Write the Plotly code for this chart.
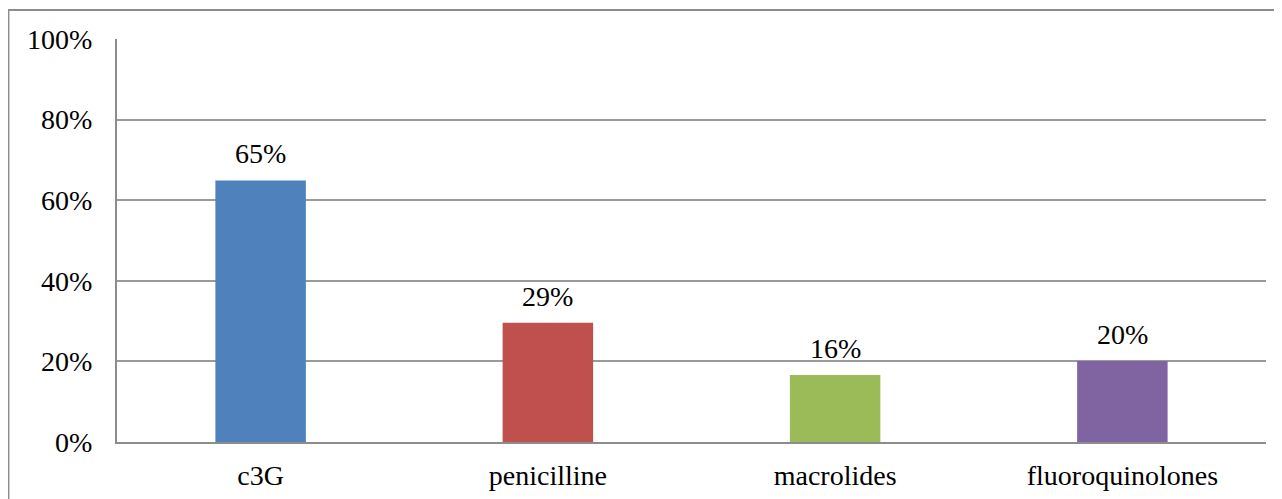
import plotly.graph_objects as go

categories = ["c3G", "penicilline", "macrolides", "fluoroquinolones"]
values = [0.649, 0.296, 0.166, 0.201]
value_labels = ["65%", "29%", "16%", "20%"]
colors = ["#4F81BD", "#C0504D", "#9BBB59", "#8064A2"]
y_ticks = [0, 0.2, 0.4, 0.6, 0.8, 1.0]
y_tick_labels = ["0%", "20%", "40%", "60%", "80%", "100%"]

FONT = "Liberation Serif"
FS = 28

fig = go.Figure(go.Bar(
    x=categories, y=values, marker=dict(color=colors, line=dict(width=0)),
    width=0.315, hoverinfo="x+y",
))

for c, v, t in zip(categories, values, value_labels):
    fig.add_annotation(x=c, y=v, text=t, showarrow=False, yanchor="bottom",
                       yshift=9, font=dict(family=FONT, size=FS, color="black"))

# page body has an 8px default margin; figure is sized to fit the window
fig.update_layout(
    width=1274, height=491,
    margin=dict(l=109, r=16, t=31, b=57),
    paper_bgcolor="white", plot_bgcolor="white",
    showlegend=False,
    font=dict(family=FONT, size=FS, color="black"),
    xaxis=dict(showgrid=False, showline=True, linecolor="#8c8c8c", linewidth=2,
               automargin=False,
               ticks="outside", ticklen=7, tickcolor="rgba(0,0,0,0)",
               tickfont=dict(family=FONT, size=FS)),
    yaxis=dict(range=[0, 1.0], tickvals=y_ticks, ticktext=y_tick_labels,
               automargin=False,
               showgrid=True, gridcolor="#9a9a9a", gridwidth=2,
               showline=True, linecolor="#8c8c8c", linewidth=2, zeroline=False,
               ticks="outside", ticklen=17, tickcolor="rgba(0,0,0,0)",
               tickfont=dict(family=FONT, size=FS)),
    shapes=[dict(type="rect", xref="paper", yref="paper",
                 x0=-0.0945, x1=1.0148, y0=-0.2, y1=1.072,
                 line=dict(color="#8c8c8c", width=2), fillcolor="rgba(0,0,0,0)", layer="above")],
)

fig.write_html("out.html")
